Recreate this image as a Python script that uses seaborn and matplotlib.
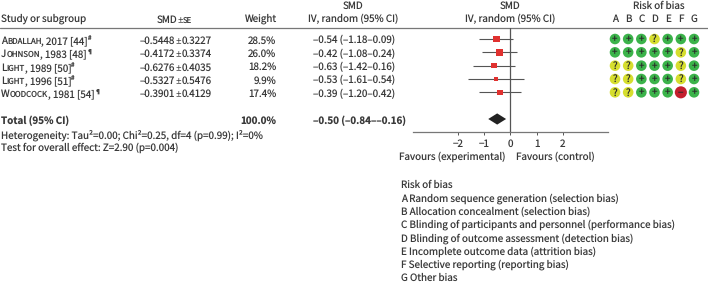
import matplotlib
matplotlib.use('Agg')
import pandas as pd
import matplotlib.pyplot as plt
import seaborn as sns

# study table values
studies = [('A', 'BDALLAH', ', 2017 [44]', '#'),
           ('J', 'OHNSON', ', 1983 [48]', '¶'),
           ('L', 'IGHT', ', 1989 [50]', '#'),
           ('L', 'IGHT', ', 1996 [51]', '#'),
           ('W', 'OODCOCK', ', 1981 [54]', '¶')]
smd_mean = ['–0.5448', '–0.4172', '–0.6276', '–0.5327', '–0.3901']
smd_se = ['0.3227', '0.3374', '0.4035', '0.5476', '0.4129']
weights = [28.5, 26.0, 18.2, 9.9, 17.4]
smd = [-0.54, -0.42, -0.63, -0.53, -0.39]
ci_low = [-1.18, -1.08, -1.42, -1.61, -1.20]
ci_high = [0.09, 0.24, 0.16, 0.54, 0.42]
ci_text = ['–0.54 (–1.18–0.09)', '–0.42 (–1.08–0.24)', '–0.63 (–1.42–0.16)', '–0.53 (–1.61–0.54)', '–0.39 (–1.20–0.42)']

total_smd = -0.50
total_low = -0.84
total_high = -0.16

rob_letters = ['A', 'B', 'C', 'D', 'E', 'F', 'G']
rob_rows = ['+++?+++', '+++++?+', '??+++?+', '??+++?+', '??+++-+']

legend_lines = ['Risk of bias',
                'A\u00a0Random sequence generation (selection bias)',
                'B Allocation concealment (selection bias)',
                'C Blinding of participants and personnel (performance bias)',
                'D Blinding of outcome assessment (detection bias)',
                'E Incomplete outcome data (attrition bias)',
                'F Selective reporting (reporting bias)',
                'G Other bias']

sns.set_theme(style='white')
plt.rcParams['font.family'] = ['Noto Sans CJK JP', 'DejaVu Sans']
plt.rcParams['text.color'] = '#3a3a3a'
plt.rcParams['xtick.color'] = '#3a3a3a'
plt.rcParams['text.hinting'] = 'none'

W, H = 708, 289
FS = 7.1
fig = plt.figure(figsize=(W / 100, H / 100), dpi=100)


def axes_px(x0, x1, y0, y1):
    return fig.add_axes([x0 / W, 1 - y1 / H, (x1 - x0) / W, (y1 - y0) / H])


# overlay for the table text, in pixels
bg = axes_px(0, W, 0, H)
bg.set_xlim(0, W)
bg.set_ylim(H, 0)
bg.axis('off')


def txt(x, y, s, ha='left', **kw):
    return bg.text(x, y, s, ha=ha, va='center', fontsize=kw.pop('fontsize', FS), **kw)


def runs(x, y, parts, gap=0.0):
    # small caps, superscripts and the plus-minus sign are pieced together
    r = fig.canvas.get_renderer()
    for part in parts:
        s, size, dy = part[:3]
        t = bg.text(x, y + dy, s, ha='left', va='baseline', fontsize=size)
        if len(part) > 3:
            t.set_family(part[3])
        x += t.get_window_extent(r).width + gap


txt(1, 19, 'Study or subgroup')
runs(157, 22.6, [('SMD', FS, 0), ('±', FS, 0, 'Noto Sans'), ('SE', FS * 0.78, 0)])
txt(277.5, 19, 'Weight', ha='right')
txt(353, 5.5, 'SMD', ha='center')
txt(353, 19, 'IV, random (95% CI)', ha='center')
txt(510.5, 5.5, 'SMD', ha='center')
txt(510.5, 19, 'IV, random (95% CI)', ha='center')
txt(658.5, 5.5, 'Risk of bias', ha='center')
bg.plot([0, W], [28.2, 28.2], color='#777777', lw=0.9)

text_y = [40.5, 53.8, 67.2, 80.5, 93.8]
for i, y in enumerate(text_y):
    cap, low, rest, sup = studies[i]
    runs(1, y + 3.4, [(cap, FS, 0), (low, FS * 0.8, 0), (rest, FS, 0), (sup, FS * 0.62, -3.5)])
    runs(140, y + 3.4, [(smd_mean[i], FS, 0), ('±', FS, 0, 'Noto Sans'), (smd_se[i], FS, 0)], gap=0.3)
    txt(276.5, y, f'{weights[i]:.1f}%', ha='right')
    txt(313, y, ci_text[i])

txt(1, 121, 'Total (95% CI)', fontweight='bold')
txt(276.5, 121, '100.0%', ha='right', fontweight='bold')
txt(313, 121, '–0.50 (–0.84––0.16)', fontweight='bold')
txt(1, 135, 'Heterogeneity: Tau²=0.00; Chi²=0.25, df=4 (p=0.99); I²=0%')
txt(1, 148, 'Test for overall effect: Z=2.90 (p=0.004)')
txt(505.5, 157, 'Favours (experimental)', ha='right')
txt(515.5, 157, 'Favours (control)')
for i, line in enumerate(legend_lines):
    txt(401, 185 + i * 13.33, line)

# forest plot
ax = axes_px(413, 608, 28, 132)
ax.patch.set_alpha(0)
forest = pd.DataFrame({'smd': smd, 'low': ci_low, 'high': ci_high, 'weight': weights, 'row': range(5)})
ax.hlines(forest['row'], forest['low'], forest['high'], color='#555555', lw=0.8)
sns.scatterplot(data=forest, x='smd', y='row', size='weight', sizes=(8, 25), marker='s',
                color='#e0312f', linewidth=0, legend=False, ax=ax, zorder=3)
ax.fill([total_low, total_smd, total_high, total_smd], [6, 6 - 0.42, 6, 6 + 0.42], color='#222222', lw=0, zorder=3)
ax.axvline(0, color='#555555', lw=0.9, zorder=1)
ax.set_xlim(-3.707, 3.722)
ax.set_ylim(6.975, -0.825)
ax.set_xticks([-2, -1, 0, 1, 2], ['−2', '−1', '0', '1', '2'])
ax.set_yticks([])
ax.set_xlabel('')
ax.set_ylabel('')
ax.tick_params(axis='x', bottom=True, length=2.5, width=0.7, pad=2.5, labelsize=FS, color='#555555')
for side in ['top', 'left', 'right']:
    ax.spines[side].set_visible(False)
ax.spines['bottom'].set_color('#777777')
ax.spines['bottom'].set_linewidth(0.9)

# risk of bias grid
rob = pd.DataFrame([{'col': j, 'row': i, 'mark': m}
                    for i, row in enumerate(rob_rows) for j, m in enumerate(row)])
rx = axes_px(605, 704, 28, 132)
rx.patch.set_alpha(0)
sns.scatterplot(data=rob, x='col', y='row', hue='mark', size='mark', legend=False, ax=rx, linewidth=0,
                palette={'+': '#3bb34a', '?': '#d6de2e', '-': '#c4202e'},
                sizes={'+': 58, '?': 58, '-': 76})
for _, m in rob.iterrows():
    sign = {'+': '+', '?': '?', '-': '−'}[m['mark']]
    rx.text(m['col'], m['row'] + 0.02, sign, ha='center', va='center', fontsize=FS, color='#2a2a2a')
rx.set_xlim(-10 / 13.17, 89 / 13.17)
rx.set_ylim(6.975, -0.825)
rx.xaxis.tick_top()
rx.set_xticks(range(7), rob_letters)
rx.set_yticks([])
rx.set_xlabel('')
rx.set_ylabel('')
rx.tick_params(axis='x', top=False, bottom=False, length=0, pad=3, labelsize=FS)
for side in rx.spines:
    rx.spines[side].set_visible(False)

plt.savefig('out.png', dpi=100)
plt.close()
